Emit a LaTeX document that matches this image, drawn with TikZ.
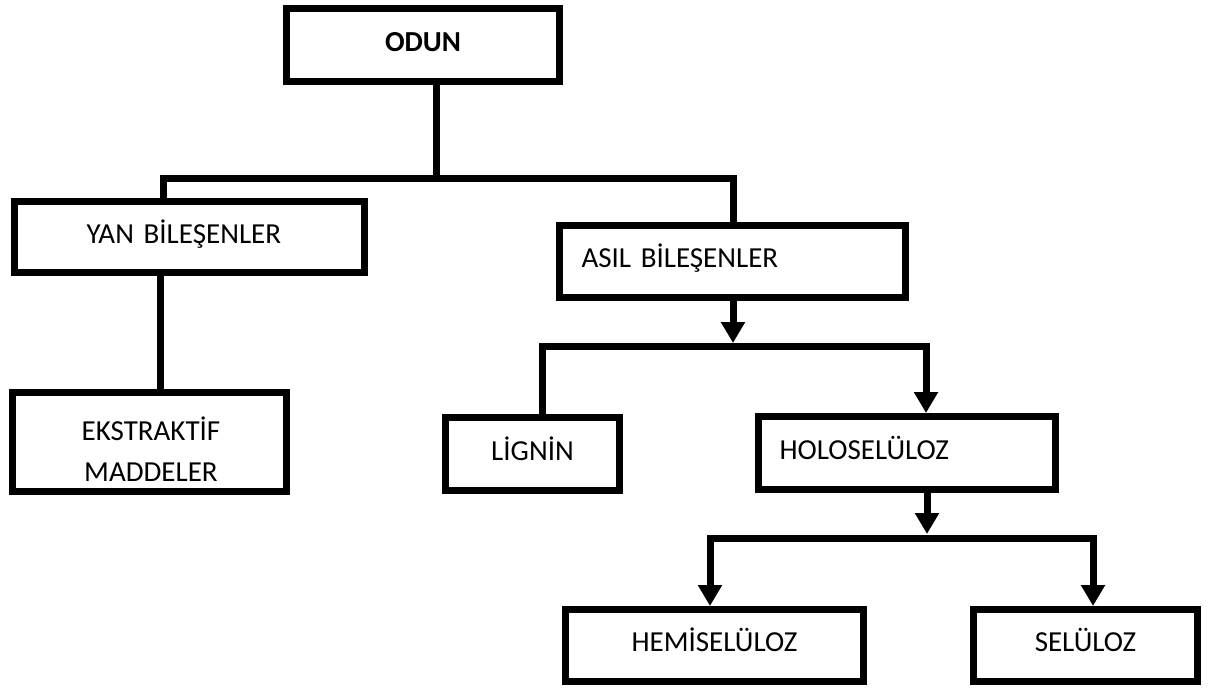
\documentclass[tikz,border=0pt]{standalone}
\usepackage{fontspec}
\setmainfont{Carlito}
\usetikzlibrary{arrows.meta}
\begin{document}
\begin{tikzpicture}[x=1pt,y=-1pt,
  frame/.style={draw=black,line width=7pt,rectangle,inner sep=0pt,
    font=\fontsize{29}{41}\selectfont},
  tbox/.style={frame,text height=18.7pt,text depth=6pt},
  conn/.style={draw=black,line width=7pt,line join=miter},
  tip/.style={-{Triangle[width=23pt,length=21pt]}},
  tips/.style={{Triangle[width=23pt,length=21pt]}-{Triangle[width=23pt,length=21pt]}}]
\useasboundingbox (0,0) rectangle (1212,688);
\fill[white] (0,0) rectangle (1212,688);

\node[tbox,minimum width=273pt,minimum height=73pt,font=\fontsize{29}{41}\selectfont\bfseries] (odun) at (423,45) {ODUN};
\node[tbox,minimum width=350pt,minimum height=71pt,text width=206pt,inner xsep=72pt,align=left] (yan) at (189.5,237) {YAN BİLEŞENLER};
\node[tbox,minimum width=346pt,minimum height=72pt,text width=302pt,inner xsep=22pt,align=left] (asil) at (732.5,261.5) {ASIL BİLEŞENLER};
\node[frame,minimum width=274pt,minimum height=99pt] (eks) at (149.5,442) {};
\node[font=\fontsize{29}{41}\selectfont,align=center,inner sep=0pt] (ekstxt) at (151,449.5) {EKSTRAKTİF\\MADDELER};
\node[tbox,minimum width=174pt,minimum height=73pt] (lig) at (532.5,454) {LİGNİN};
\node[tbox,minimum width=297pt,minimum height=73pt,text width=255pt,inner xsep=21pt,align=left] (hol) at (907,453) {HOLOSELÜLOZ};
\node[tbox,minimum width=298pt,minimum height=72pt] (hem) at (714.5,645.5) {HEMİSELÜLOZ};
\node[tbox,minimum width=224pt,minimum height=72pt] (sel) at (1085.5,645.5) {SELÜLOZ};

\coordinate (j1) at (436,178);
\coordinate (yl) at (163,178);
\coordinate (yr) at (733,178);
\coordinate (j2) at (733,343);
\coordinate (ll) at (542,346);
\coordinate (lr) at (926,346);
\coordinate (j3) at (927,534);
\coordinate (hl) at (710,538);
\coordinate (hr) at (1093,538);
\coordinate (ek) at (160,0);

\draw[conn] (odun.south -| j1) -- (j1);
\draw[conn] (yan.north -| yl) -- (yl) -- (yr) -- (asil.north -| yr);
\draw[conn] (yan.south -| ek) -- (eks.north -| ek);
\draw[conn,tip] (asil.south -| j2) -- (j2);
\draw[conn,tip] (lig.north -| ll) -- (ll) -- (lr) -- (hol.north -| lr);
\draw[conn,tip] (hol.south -| j3) -- (j3);
\draw[conn,tips] (hem.north -| hl) -- (hl) -- (hr) -- (sel.north -| hr);
\end{tikzpicture}
\end{document}
